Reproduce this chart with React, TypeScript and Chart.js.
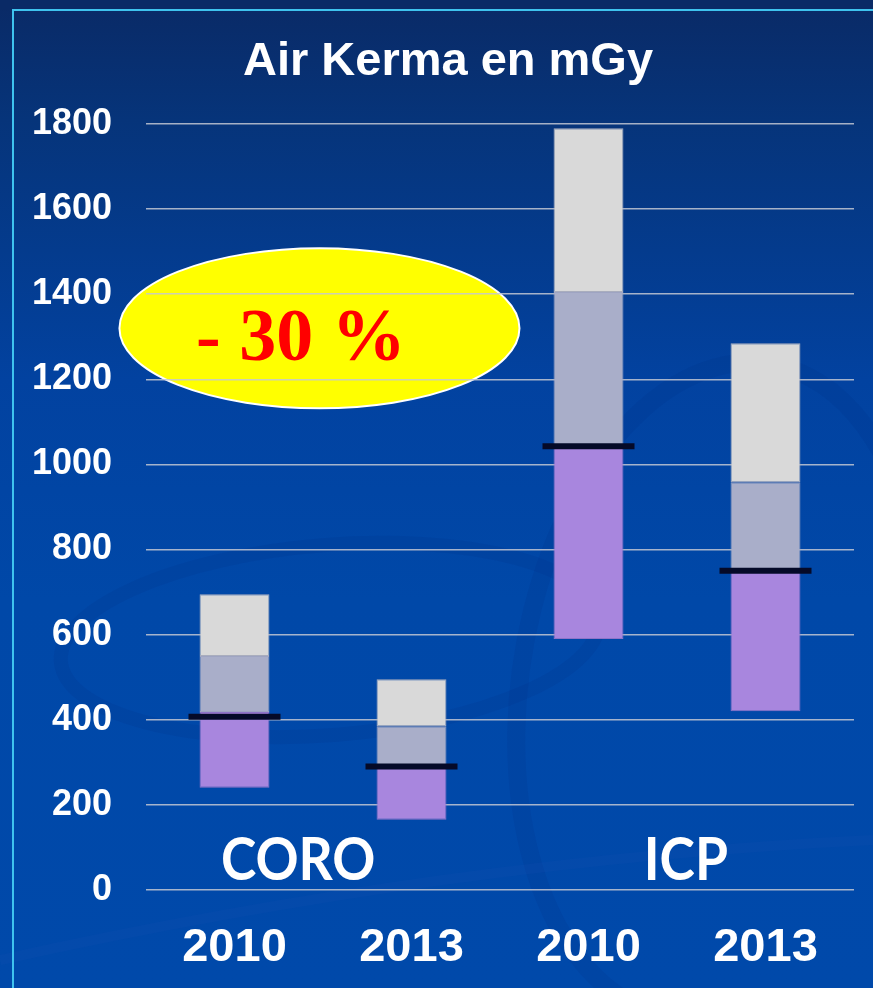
import React, { useEffect, useRef } from "react";
import { Chart, registerables } from "chart.js";

Chart.register(...registerables);

// ---- data ----
const categories = ["2010", "2013", "2010", "2013"];
const groupLabels = ["CORO", "ICP"];
const groupLabelIndex = [0.36, 2.55];
const lowValues = [240, 165, 590, 420];
const purpleTopValues = [418, 288, 1040, 748];
const q3Values = [550, 385, 1405, 958];
const highValues = [695, 495, 1790, 1285];
const medianValues = [407, 290, 1043, 750];
const yTicks = [0, 200, 400, 600, 800, 1000, 1200, 1400, 1600, 1800];
const titleText = "Air Kerma en mGy";
const reductionText = "- 30 %";

const overlayPlugin = {
  id: "overlay",
  beforeDraw(chart: any) {
    const { ctx, width, height, scales } = chart;
    const x = scales.x;
    const y = scales.y;
    ctx.save();
    // faint swirls
    ctx.strokeStyle = "rgba(0, 40, 120, 0.12)";
    ctx.lineWidth = 14;
    ctx.beginPath();
    ctx.ellipse(330, 640, 270, 95, -0.08, 0, Math.PI * 2);
    ctx.stroke();
    ctx.lineWidth = 18;
    ctx.beginPath();
    ctx.ellipse(720, 690, 200, 330, 0.15, Math.PI * 0.55, Math.PI * 1.9);
    ctx.stroke();
    ctx.lineWidth = 10;
    ctx.strokeStyle = "rgba(40, 90, 190, 0.1)";
    ctx.beginPath();
    ctx.moveTo(0, 960);
    ctx.quadraticCurveTo(450, 860, 873, 840);
    ctx.stroke();

    // frame
    ctx.fillStyle = "#0a2a66";
    ctx.fillRect(0, 0, width, 10);
    ctx.strokeStyle = "#3fc3ee";
    ctx.lineWidth = 2;
    ctx.beginPath();
    ctx.moveTo(13, height);
    ctx.lineTo(13, 10);
    ctx.lineTo(width, 10);
    ctx.stroke();

    // yellow ellipse annotation
    const cx = x.getPixelForValue(0.48);
    const cy = y.getPixelForValue(1320);
    const rx = Math.abs(x.getPixelForValue(1.61) - cx);
    const ry = Math.abs(y.getPixelForValue(1320 + 188) - cy);
    ctx.beginPath();
    ctx.ellipse(cx, cy, rx, ry, 0, 0, Math.PI * 2);
    ctx.fillStyle = "#ffff00";
    ctx.fill();
    ctx.strokeStyle = "#ffffff";
    ctx.lineWidth = 2;
    ctx.stroke();
    ctx.fillStyle = "#ff0000";
    ctx.font = "bold 74px 'Liberation Serif', 'Times New Roman', serif";
    ctx.textAlign = "center";
    ctx.textBaseline = "alphabetic";
    ctx.fillText(reductionText, x.getPixelForValue(0.375), y.getPixelForValue(1245));

    // title
    ctx.fillStyle = "#ffffff";
    ctx.font = "bold 47px 'Liberation Sans', Arial, sans-serif";
    ctx.fillText(titleText, 448, 75);

    // group labels (slightly condensed, Calibri-like)
    ctx.font = "bold 60px Lato, 'Open Sans', sans-serif";
    const sx = 0.89;
    groupLabels.forEach((g, i) => {
      const px = x.getPixelForValue(groupLabelIndex[i]);
      const py = y.getPixelForValue(23);
      ctx.save();
      ctx.translate(px, py);
      ctx.scale(sx, 1);
      ctx.fillText(g, 0, 0);
      ctx.restore();
    });
    ctx.restore();
  },
};

export default function App() {
  const ref = useRef<HTMLCanvasElement | null>(null);
  useEffect(() => {
    if (!ref.current) return;
    const barCommon = {
      grouped: false,
      categoryPercentage: 1,
      barPercentage: 0.395,
      borderWidth: 1,
      borderSkipped: false,
      order: 1,
    };
    const chart = new Chart(ref.current, {
      type: "bar",
      data: {
        labels: categories,
        datasets: [
          {
            type: "line",
            label: "Médiane",
            data: medianValues,
            showLine: false,
            pointStyle: "line",
            pointRadius: 46,
            pointHoverRadius: 46,
            pointBorderWidth: 6,
            pointHoverBorderWidth: 6,
            pointBorderColor: "#050a28",
            borderColor: "#050a28",
            order: 0,
          } as any,
          {
            ...barCommon,
            label: "Q1–médiane",
            data: lowValues.map((v, i) => [v, purpleTopValues[i]]),
            backgroundColor: "#a886de",
            borderColor: "#8f74c8",
          } as any,
          {
            ...barCommon,
            label: "médiane–Q3",
            data: purpleTopValues.map((v, i) => [v, q3Values[i]]),
            backgroundColor: "#a9aec9",
            borderColor: "#9ea4c2",
          } as any,
          {
            ...barCommon,
            label: "Q3–max",
            data: q3Values.map((v, i) => [v, highValues[i]]),
            backgroundColor: "#d9d9d9",
            borderColor: "#a9adbd",
          } as any,
        ],
      },
      options: {
        animation: false,
        responsive: true,
        maintainAspectRatio: false,
        layout: { autoPadding: false, padding: { top: 124, left: 32, right: 19, bottom: 0 } },
        plugins: {
          legend: { display: false },
          tooltip: { enabled: false },
          title: { display: false },
        },
        scales: {
          x: {
            grid: { display: false, drawTicks: false },
            border: { display: false },
            ticks: {
              color: "#ffffff",
              padding: 30,
              font: { family: "'Liberation Sans', Arial, sans-serif", size: 47, weight: "bold" },
            },
            afterFit: (s: any) => {
              s.height = 98;
              s.paddingLeft = 0;
              s.paddingRight = 0;
            },
          },
          y: {
            min: 0,
            max: 1800,
            afterBuildTicks: (s: any) => {
              s.ticks = yTicks.map((v) => ({ value: v }));
            },
            grid: { color: "rgba(195, 200, 212, 0.85)", lineWidth: 1.5, drawTicks: false },
            border: { display: false },
            ticks: {
              color: "#ffffff",
              padding: 34,
              callback: (v: any) => String(v),
              font: { family: "'Liberation Sans', Arial, sans-serif", size: 36, weight: "bold" },
            },
            afterFit: (s: any) => {
              s.width = 114;
            },
          },
        },
      },
      plugins: [overlayPlugin],
    });
    return () => chart.destroy();
  }, []);

  return (
    <div
      style={{
        position: "fixed",
        left: 0,
        top: 0,
        width: 873,
        height: 988,
        background:
          "linear-gradient(180deg, #0a2a66 0px, #06347a 120px, #0242a0 380px, #0048a8 600px, #0049aa 988px)",
      }}
    >
      <canvas ref={ref} />
    </div>
  );
}
